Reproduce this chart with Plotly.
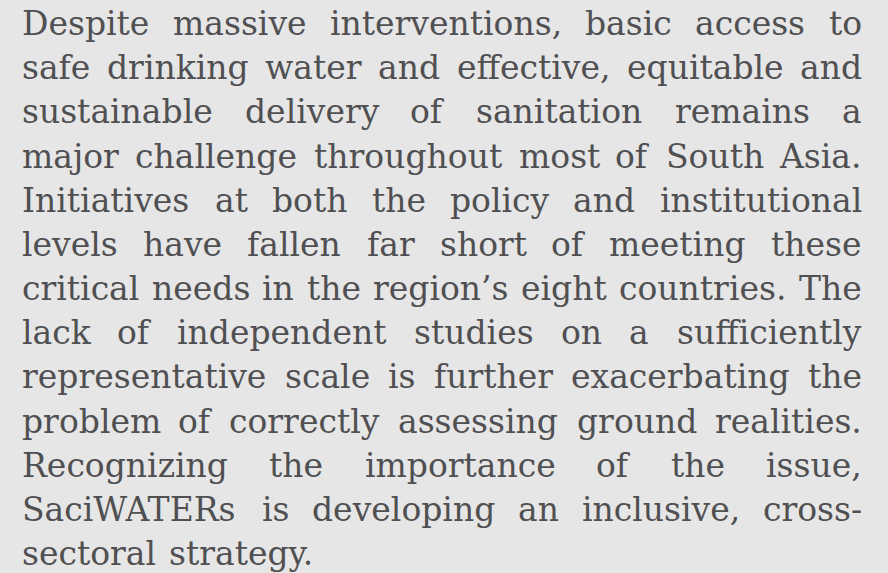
import plotly.graph_objects as go

# Text content (one entry per justified line)
lines = [
    "Despite massive interventions, basic access to",
    "safe drinking water and effective, equitable and",
    "sustainable delivery of sanitation remains a",
    "major challenge throughout most of South Asia.",
    "Initiatives at both the policy and institutional",
    "levels have fallen far short of meeting these",
    "critical needs in the region\u2019s eight countries. The",
    "lack of independent studies on a sufficiently",
    "representative scale is further exacerbating the",
    "problem of correctly assessing ground realities.",
    "Recognizing the importance of the issue,",
    "SaciWATERs is developing an inclusive, cross-",
    "sectoral strategy.",
]

# Approximate DejaVu Serif advance widths (em)
W = {
    ' ': .318, '.': .318, ',': .318, '-': .338, '\u2019': .318,
    'a': .596, 'b': .640, 'c': .560, 'd': .640, 'e': .592, 'f': .370,
    'g': .640, 'h': .644, 'i': .320, 'j': .310, 'k': .606, 'l': .320,
    'm': .948, 'n': .644, 'o': .602, 'p': .640, 'q': .640, 'r': .478,
    's': .513, 't': .402, 'u': .644, 'v': .565, 'w': .856, 'x': .564,
    'y': .565, 'z': .527,
    'A': .722, 'D': .802, 'E': .728, 'I': .426, 'R': .753, 'S': .685,
    'T': .681, 'W': 1.028,
}

FS = 33
LEFT, RIGHT = 22, 862
TOP_BASE, PITCH = 35, 44.17
COLOR = "#505052"
FONT = "DejaVu Serif"


def width(word):
    return sum(W.get(c, .6) for c in word) * FS


annotations = []
for li, line in enumerate(lines):
    words = line.split(" ")
    y = TOP_BASE + li * PITCH
    ws = [width(w) for w in words]
    last = li == len(lines) - 1
    if last or len(words) == 1:
        gap = W[' '] * FS
    else:
        gap = (RIGHT - LEFT - sum(ws)) / (len(words) - 1)
    x = LEFT
    for wi, (w, ww) in enumerate(zip(words, ws)):
        if wi == 0:
            ax, anchor = x, 'left'
        elif wi == len(words) - 1 and not last:
            ax, anchor = RIGHT, 'right'
        else:
            ax, anchor = x + ww / 2, 'center'
        annotations.append(dict(
            x=ax, y=y, xref='x', yref='y', text=w, showarrow=False,
            xanchor=anchor, yanchor='bottom', borderpad=0, borderwidth=0,
            font=dict(family=FONT, size=FS, color=COLOR), yshift=-8,
        ))
        x += ww + gap

fig = go.Figure()
fig.update_layout(
    width=888, height=573,
    margin=dict(l=0, r=0, t=0, b=0),
    paper_bgcolor="#e6e6e6", plot_bgcolor="#e6e6e6",
    xaxis=dict(range=[0, 888], visible=False, fixedrange=True),
    yaxis=dict(range=[573, 0], visible=False, fixedrange=True),
    annotations=annotations,
    showlegend=False,
)
fig.write_html(
    "out.html",
    config={"displayModeBar": False},
    post_script="document.body.style.margin='0';document.body.style.background='#e6e6e6';",
)
